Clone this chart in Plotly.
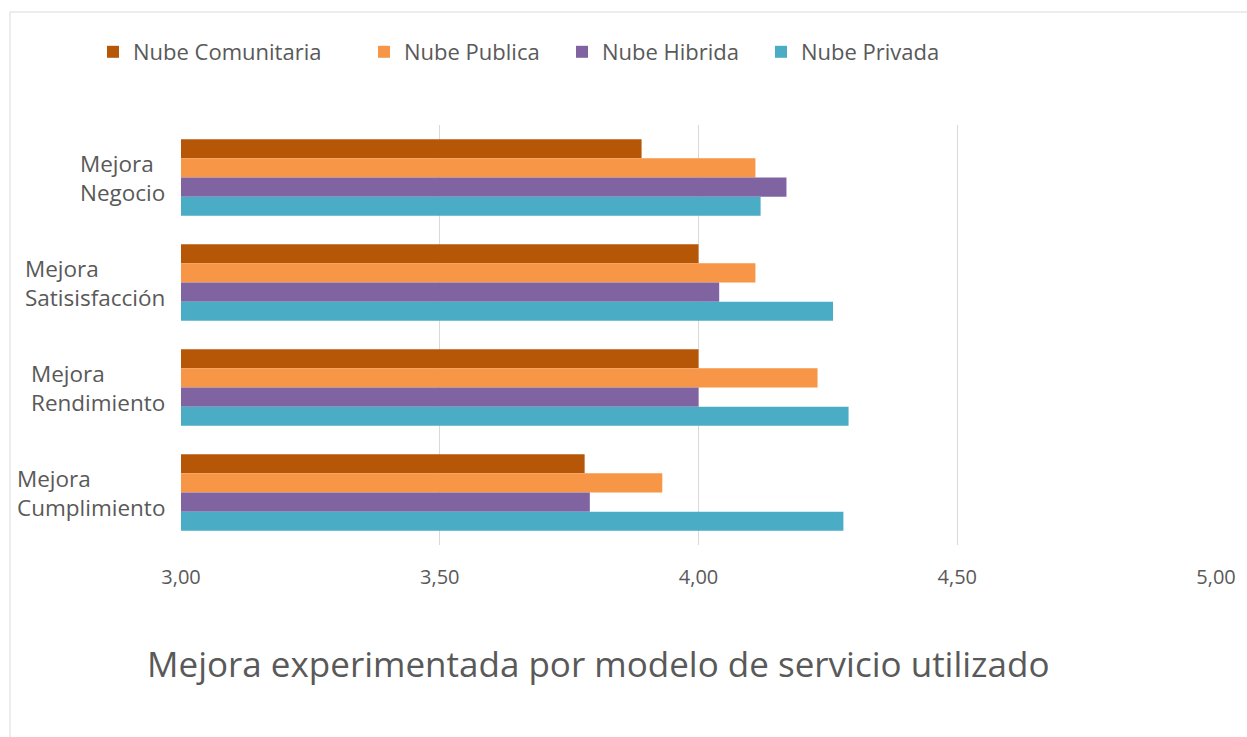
import plotly.graph_objects as go

# Categories (top to bottom) and series values
categorias = ["Mejora<br>Negocio", "Mejora<br>Satisisfacción", "Mejora<br>Rendimiento", "Mejora<br>Cumplimiento"]
series = ["Nube Comunitaria", "Nube Publica", "Nube Hibrida", "Nube Privada"]
comunitaria = [3.89, 4.00, 4.00, 3.78]
publica = [4.11, 4.11, 4.23, 3.93]
hibrida = [4.17, 4.04, 4.00, 3.79]
privada = [4.12, 4.26, 4.29, 4.28]
colores = ["#B65708", "#F79646", "#8064A2", "#4BACC6"]
ticks_x = [3.0, 3.5, 4.0, 4.5, 5.0]

FONT = "Open Sans"
GRIS = "#595959"

W, H = 1247, 737
ML, MR, MT, MB = 181, 31, 125, 192
PW = W - ML - MR
PH = H - MT - MB

# Left edge (px) of each legend entry
legend_px = [93, 364, 562, 761]
legend_ids = ["legend", "legend2", "legend3", "legend4"]

fig = go.Figure()
for nombre, valores, color, lid in zip(series, [comunitaria, publica, hibrida, privada], colores, legend_ids):
    fig.add_trace(go.Bar(
        y=categorias, x=valores, name=nombre, orientation="h",
        marker=dict(color=color, line=dict(width=0)),
        legend=lid, showlegend=True,
    ))

# Category labels: block right-aligned, lines left-aligned
for cat in categorias:
    fig.add_annotation(
        x=0, xref="paper", xanchor="right", xshift=-14,
        y=cat, yref="y", yanchor="middle",
        text=cat, showarrow=False, align="left",
        font=dict(family=FONT, size=22.5, color=GRIS),
    )

legend_y = 1 + (MT - 52) / PH
legend_layout = {}
for lid, px in zip(legend_ids, legend_px):
    legend_layout[lid] = dict(
        orientation="h", x=(px - ML) / PW, xanchor="left",
        y=legend_y, yanchor="middle",
        font=dict(family=FONT, size=22, color=GRIS),
        itemwidth=30, bgcolor="rgba(0,0,0,0)",
    )

fig.update_layout(
    width=W, height=H,
    margin=dict(l=ML, r=MR, t=MT, b=MB),
    paper_bgcolor="white", plot_bgcolor="white",
    showlegend=True,
    barmode="group", bargap=0.27, bargroupgap=0,
    separators=",.",
    font=dict(family=FONT, color=GRIS),
    xaxis=dict(
        range=[3, 5], tickvals=ticks_x, tickformat=".2f",
        showgrid=True, gridcolor="#D9D9D9", gridwidth=1,
        zeroline=False, showline=False, ticks="",
        tickfont=dict(family=FONT, size=20, color=GRIS),
        ticklabelstandoff=18,
    ),
    yaxis=dict(
        autorange="reversed", showticklabels=False, showgrid=False,
        zeroline=False, showline=False, ticks="",
    ),
    title=dict(
        text="Mejora experimentada por modelo de servicio utilizado",
        x=147 / W, xanchor="left", xref="container",
        y=1 - 665 / H, yanchor="middle", yref="container",
        font=dict(family=FONT, size=35, color=GRIS),
    ),
    shapes=[dict(
        type="rect", xref="paper", yref="paper",
        x0=(10 - ML) / PW, x1=1.2, y0=-0.6, y1=1 + (MT - 12) / PH,
        line=dict(color="#D9D9D9", width=1), fillcolor="rgba(0,0,0,0)", layer="below",
    )],
    **legend_layout,
)

fig.write_html("out.html")
